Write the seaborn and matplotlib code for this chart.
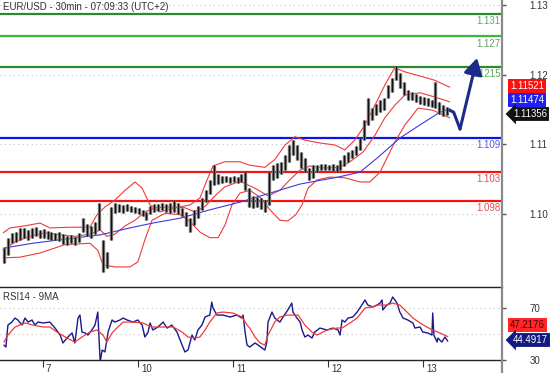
import numpy as np
import matplotlib
matplotlib.use("Agg")
import matplotlib.pyplot as plt
import matplotlib.transforms as mtransforms
from matplotlib.lines import Line2D
import seaborn as sns

# ---- data: x is hours from the left edge of the chart, y is price ----
bar_high = [
    1.0951, 1.0966, 1.0973, 1.0974, 1.0980, 1.0980, 1.0977, 1.0980, 1.0981, 1.0977,
    1.0978, 1.0976, 1.0974, 1.0973, 1.0974, 1.0971, 1.0968, 1.0970, 1.0967, 1.0973,
    1.0994, 1.0986, 1.0983, 1.0989, 1.1016, 1.0963, 1.0945, 1.1010, 1.1016, 1.1014,
    1.1013, 1.1014, 1.1011, 1.1010, 1.1009, 1.1006, 1.1003, 1.1011, 1.1014, 1.1014,
    1.1016, 1.1014, 1.1016, 1.1020, 1.1016, 1.1009, 1.1003, 1.0994, 1.1006, 1.1011,
    1.1023, 1.1034, 1.1049, 1.1070, 1.1057, 1.1055, 1.1055, 1.1053, 1.1055, 1.1053,
    1.1057, 1.1060, 1.1037, 1.1026, 1.1024, 1.1023, 1.1020, 1.1060, 1.1070, 1.1073,
    1.1075, 1.1085, 1.1099, 1.1106, 1.1099, 1.1089, 1.1080, 1.1066, 1.1070, 1.1070,
    1.1072, 1.1072, 1.1070, 1.1072, 1.1070, 1.1078, 1.1085, 1.1089, 1.1092, 1.1098,
    1.1109, 1.1135, 1.1167, 1.1152, 1.1158, 1.1164, 1.1167, 1.1185, 1.1195, 1.1212,
    1.1202, 1.1189, 1.1178, 1.1175, 1.1172, 1.1169, 1.1168, 1.1167, 1.1164, 1.1189,
    1.1161, 1.1156, 1.1154,
]
bar_low = [
    1.0930, 1.0941, 1.0958, 1.0960, 1.0963, 1.0966, 1.0963, 1.0966, 1.0968, 1.0966,
    1.0966, 1.0964, 1.0963, 1.0963, 1.0961, 1.0957, 1.0956, 1.0958, 1.0956, 1.0960,
    1.0974, 1.0968, 1.0966, 1.0971, 1.0977, 1.0917, 1.0922, 1.0963, 1.1001, 1.1003,
    1.1001, 1.1004, 1.1003, 1.1001, 1.1000, 1.0997, 1.0991, 1.1000, 1.1003, 1.1004,
    1.1006, 1.1003, 1.1001, 1.1003, 1.1000, 1.0997, 1.0983, 1.0974, 1.0984, 1.0994,
    1.1006, 1.1017, 1.1029, 1.1042, 1.1043, 1.1044, 1.1046, 1.1044, 1.1046, 1.1044,
    1.1046, 1.1034, 1.1010, 1.1009, 1.1010, 1.1007, 1.1003, 1.1013, 1.1049, 1.1052,
    1.1057, 1.1063, 1.1075, 1.1085, 1.1078, 1.1066, 1.1060, 1.1049, 1.1052, 1.1060,
    1.1063, 1.1063, 1.1063, 1.1062, 1.1060, 1.1063, 1.1069, 1.1075, 1.1080, 1.1085,
    1.1092, 1.1106, 1.1128, 1.1135, 1.1142, 1.1146, 1.1149, 1.1167, 1.1175, 1.1192,
    1.1181, 1.1171, 1.1164, 1.1164, 1.1161, 1.1158, 1.1156, 1.1155, 1.1154, 1.1152,
    1.1144, 1.1141, 1.1142,
]
bar_hours = np.arange(1, len(bar_high) + 1)

bb_up_h = [0.8, 2.5, 6.3, 10.1, 12.6, 17.7, 22.7, 24.5, 26.5, 29, 31.6, 34.1, 35.9, 37.9,
           40.4, 44.2, 48, 50.5, 52.3, 53.8, 56.8, 60.6, 63.1, 66.9, 69.4, 72, 74.5, 77,
           80.8, 84.6, 87.1, 89.6, 92.2, 94.7, 97.2, 99.7, 102.3, 106.1, 109.8, 113.6]
bb_up = [1.0973, 1.0980, 1.0983, 1.0987, 1.0980, 1.0981, 1.0981, 1.0999, 1.1010, 1.1020,
         1.1034, 1.1046, 1.1037, 1.1013, 1.1003, 1.1009, 1.1013, 1.1023, 1.1049, 1.1069,
         1.1075, 1.1075, 1.1070, 1.1067, 1.1078, 1.1099, 1.1111, 1.1106, 1.1102, 1.1099,
         1.1092, 1.1106, 1.1128, 1.1156, 1.1185, 1.1210, 1.1204, 1.1198, 1.1192, 1.1182]

bb_mid_h = [0.8, 3.8, 7.6, 11.4, 15.2, 18.9, 22.7, 25.3, 27, 29, 31.6, 34.1, 36.6, 39.1,
            42.9, 46.7, 49.2, 51.8, 54.3, 56.8, 60.6, 64.4, 67.7, 70.7, 73.2, 75.8, 78.3,
            82.1, 85.9, 88.4, 91.7, 94.7, 97.2, 99.7, 102.3, 106.1, 109.8, 113.6]
bb_mid = [1.0948, 1.0960, 1.0968, 1.0973, 1.0970, 1.0968, 1.0971, 1.0977, 1.0968, 1.0971,
          1.0983, 1.0991, 1.1003, 1.1009, 1.1010, 1.1009, 1.1003, 1.1011, 1.1026, 1.1039,
          1.1047, 1.1037, 1.1026, 1.1034, 1.1049, 1.1063, 1.1069, 1.1066, 1.1067, 1.1075,
          1.1089, 1.1113, 1.1138, 1.1156, 1.1171, 1.1174, 1.1168, 1.1161]

bb_low_h = [0.8, 5, 10.1, 16.4, 22.7, 24.7, 26, 29, 32.8, 34.8, 36.6, 38.4, 41.7, 45.5,
            48, 50.5, 53, 55.1, 56.8, 58.6, 60.6, 63.1, 65.7, 68.2, 70.7, 72.7, 74.7,
            76.3, 77.8, 80.1, 83.3, 87.1, 90.9, 93.4, 96, 97.7, 99.7, 102.3, 105.6,
            109.3, 113.6]
bb_low = [1.0937, 1.0938, 1.0944, 1.0956, 1.0958, 1.0948, 1.0927, 1.0924, 1.0924, 1.0931,
          1.0963, 1.0991, 1.1001, 1.0999, 1.0989, 1.0974, 1.0966, 1.0966, 1.0984, 1.1013,
          1.1030, 1.1034, 1.1024, 1.1006, 1.0991, 1.0990, 1.0999, 1.1013, 1.1037, 1.1049,
          1.1053, 1.1052, 1.1046, 1.1046, 1.1060, 1.1080, 1.1103, 1.1128, 1.1152, 1.1149,
          1.1138]

ma_h = [0.8, 8.3, 15.2, 25.3, 32.8, 38.6, 45.5, 53, 60.6, 68.2, 75.8, 85.4, 90.9, 95.2,
        101, 106.1, 111.1, 113.6]
ma = [1.0951, 1.0958, 1.0963, 1.0970, 1.0980, 1.0987, 1.0994, 1.1006, 1.1017, 1.1030,
      1.1043, 1.1053, 1.1060, 1.1080, 1.1109, 1.1128, 1.1146, 1.1151]

# support / resistance levels: drawn position and printed label
level_price = [1.1287, 1.1255, 1.1211, 1.1109, 1.1060, 1.1019]
level_text = ["1.131", "1.127", "1.1215", "1.109", "1.103", "1.098"]
level_color = ["#2b8a2b", "#3cb83c", "#2b8a2b", "#0a14e6", "#f01414", "#f01414"]
level_text_color = ["#5fa85f", "#5fa85f", "#5fa85f", "#5a5ae0", "#e05050", "#e05050"]

# projected path (blue arrow)
proj_h = [113.6, 114.6, 116.2, 120.5]
proj_p = [1.1149, 1.1146, 1.1122, 1.1224]

price_ticks = [1.10, 1.11, 1.12, 1.13]
price_tags = ["1.11521", "1.11474", "1.11356"]

# RSI panel
rsi_h = [1.0, 1.5, 2, 3, 3.8, 4.5, 5.6, 6.3, 7.1, 8.1, 8.8, 9.6, 10.9, 12.6, 13.9, 15.2,
         15.9, 16.9, 18.2, 18.9, 19.7, 20.2, 20.7, 21.5, 22.2, 23.2, 24, 24.7, 25.3, 25.8,
         26.5, 27.3, 28.3, 29, 30.3, 31.1, 32.1, 33.6, 34.8, 35.9, 36.6, 37.4, 37.9, 38.6,
         39.9, 41.2, 42.2, 43.4, 44.7, 46, 46.7, 47.5, 48.5, 49.2, 50, 51, 51.8, 53, 53.5,
         53.8, 54.8, 56.3, 58.1, 59.8, 61.1, 61.4, 61.9, 62.4, 63.1, 64.4, 65.2, 66.2, 66.9,
         67.4, 67.7, 68.7, 69.4, 70.7, 71.5, 72.7, 73.7, 74, 75, 75.8, 76.3, 77, 77.8, 78.8,
         79.5, 80.8, 82.6, 84.1, 85.4, 85.9, 86.4, 87.1, 87.9, 89.1, 90.2, 90.9, 92.2, 92.9,
         94.2, 95.2, 96, 96.5, 96.7, 97.7, 98.5, 99.2, 100.3, 101, 101.8, 103, 104.3, 104.8,
         106.1, 106.8, 108.1, 109.1, 109.3, 109.6, 110.4, 110.6, 111.6, 112.4, 113.1]
rsi = [41.5, 40, 56.9, 59.2, 62.3, 60.8, 56.9, 62.3, 59.2, 60.8, 56.9, 59.2, 58.5, 59.2,
       54.6, 49.2, 43.1, 46.9, 50.8, 43.1, 62.3, 64.6, 51.5, 50.8, 49.2, 53.1, 56.9, 66.9,
       28.5, 37.7, 36.2, 51.5, 60.8, 59.2, 60.8, 62.3, 60.8, 59.2, 60.8, 56.9, 47.7, 51.5,
       58.5, 53.1, 55.4, 59.2, 54.6, 56.9, 51.5, 41.5, 36.2, 37.7, 49.2, 45.4, 53.1, 56.9,
       63.1, 64.6, 74.6, 70, 64.6, 64.6, 63.1, 64.6, 62.3, 64.6, 51.5, 41.5, 40, 43.1, 41.5,
       39.2, 37.7, 43.8, 59.2, 66.9, 62.3, 59.2, 63.1, 68.5, 73.8, 66.9, 62.3, 59.2, 53.1,
       47.7, 49.2, 46.9, 51.5, 54.6, 53.1, 54.6, 53.1, 49.2, 60.8, 59.2, 62.3, 63.1, 66.9,
       70, 76.2, 72.3, 70.8, 72.3, 73.8, 76.2, 68.5, 72.3, 73.8, 78.5, 73.8, 66.9, 62.3,
       60.8, 58.5, 54.6, 55.4, 51.5, 50.8, 49.2, 66.2, 49.2, 43.8, 46.9, 43.8, 47.7, 44.5]

rsi_ma_h = [1, 2, 3.8, 6.3, 8.3, 10.9, 12.6, 14.4, 16.9, 18.9, 20.7, 22.7, 24.5, 26, 27,
            28.3, 29.5, 31.1, 33.6, 36.1, 38.4, 41.2, 43.7, 46, 47.5, 49.2, 50.5, 51.8, 53,
            54.8, 56.3, 58.8, 61.1, 62.4, 63.1, 64.4, 65.7, 66.9, 67.7, 69.4, 70.7, 72.5,
            75.3, 77, 78.8, 80.1, 82.6, 85.1, 86.4, 88.4, 90.2, 92.2, 93.9, 95.5, 97.7, 99.2,
            101, 102.8, 104.3, 106.1, 107.8, 109.3, 111.1, 113.1]
rsi_ma = [43.8, 49.2, 55.4, 58.5, 56.9, 55.4, 55.4, 51.5, 46.9, 43.8, 47.7, 51.5, 53.1,
          49.2, 43.8, 50.8, 54.6, 59.2, 59.2, 58.5, 55.4, 55.4, 55.4, 51.5, 47.7, 46.9, 47.7,
          53.1, 59.2, 66.2, 66.9, 66.2, 63.1, 56.9, 54.6, 47.7, 43.1, 41.5, 49.2, 59.2, 63.1,
          64.6, 64.6, 56.9, 51.5, 49.2, 53.1, 54.6, 54.6, 58.5, 62.3, 70, 70.8, 72.3, 72.3,
          73.8, 72.3, 66.9, 62.3, 58.5, 55.4, 53.1, 50.8, 48.0]
rsi_ticks = [30, 70]
rsi_grid = [50, 70]
rsi_tags = ["47.2176", "44.4917"]

day_ticks = [10.9, 34.9, 58.9, 82.9, 106.9]
day_labels = ["7", "10", "11", "12", "13"]

# ---- figure ----
sns.set_theme(style="white")
plt.rcParams["font.family"] = ["Liberation Sans", "DejaVu Sans"]

W, H = 550, 373
fig = plt.figure(figsize=(W / 100, H / 100), dpi=100)
ax = fig.add_axes([0, 1 - 287 / H, 502 / W, 287 / H])
ax2 = fig.add_axes([0, 1 - 360 / H, 502 / W, 73 / H])

for a in (ax, ax2):
    a.set_facecolor("white")
    for s in a.spines.values():
        s.set_visible(False)
    a.set_xlim(0, 126.8)

ax.set_ylim(1.08952, 1.13072)
ax2.set_ylim(30, 86.2)

# dotted grid
for v in price_ticks:
    ax.axhline(v, color="#c4c4c4", lw=0.8, ls=(0, (1, 3)), zorder=0)
for v in rsi_grid:
    ax2.axhline(v, color="#c4c4c4", lw=0.8, ls=(0, (1, 3)), zorder=0)

# levels
for p, t, c, tc in zip(level_price, level_text, level_color, level_text_color):
    ax.axhline(p, color=c, lw=1.6, zorder=2)
    ax.annotate(t, xy=(0.997, p), xycoords=("axes fraction", "data"),
                xytext=(0, -5.2), textcoords="offset points",
                ha="right", va="center", fontsize=7, color=tc, zorder=3)

# bollinger bands and moving average
for xs, ys in ((bb_up_h, bb_up), (bb_mid_h, bb_mid), (bb_low_h, bb_low)):
    sns.lineplot(x=xs, y=ys, ax=ax, color="#f03a3a", lw=0.8, sort=False,
                 estimator=None, zorder=3)
sns.lineplot(x=ma_h, y=ma, ax=ax, color="#3a3ae0", lw=0.8, sort=False,
             estimator=None, zorder=3)

# price bars: grey body with a black stroke
ax.vlines(bar_hours, bar_low, bar_high, color="#7a7a7a", lw=2.4, zorder=4)
ax.vlines(bar_hours, bar_low, bar_high, color="#111111", lw=0.9, zorder=4)

# projection arrow
sns.lineplot(x=proj_h[:-1], y=proj_p[:-1], ax=ax, color="#1c2a8c", lw=2.2,
             sort=False, estimator=None, zorder=5)
ax.annotate("", xy=(proj_h[-1], proj_p[-1]), xytext=(proj_h[-2], proj_p[-2]),
            arrowprops=dict(arrowstyle="-|>,head_length=0.7,head_width=0.4",
                            color="#1c2a8c", lw=2.2, mutation_scale=14,
                            shrinkA=0, shrinkB=0), zorder=5)

ax.text(0.006, 0.975, "EUR/USD - 30min - 07:09:33 (UTC+2)", transform=ax.transAxes,
        fontsize=7, color="#333333", ha="left", va="center")

# right price axis
ax.yaxis.tick_right()
ax.set_yticks(price_ticks)
ax.set_yticklabels([f"{v:.2f}" for v in price_ticks])
ax.tick_params(axis="y", right=True, length=3, width=1, color="#555555",
               labelsize=7, labelcolor="#333333", pad=17)
ax.tick_params(axis="x", bottom=False, labelbottom=False)

tag_y = [1 - 86 / 287, 1 - 100 / 287, 1 - 114 / 287]
tag_bg = ["#ff1010", "#2020f0", "#111111"]
tag_style = ["square,pad=0.2", "square,pad=0.2", "larrow,pad=0.2"]
tag_x = [1.016, 1.016, 1.022]
for t, y, bg, st, x in zip(price_tags, tag_y, tag_bg, tag_style, tag_x):
    ax.text(x, y, t, transform=ax.transAxes, fontsize=6.9, color="white",
            ha="left", va="center", clip_on=False,
            bbox=dict(boxstyle=st, fc=bg, ec="none"))

# RSI panel
sns.lineplot(x=rsi_h, y=rsi, ax=ax2, color="#1a1a8a", lw=1.0, sort=False,
             estimator=None, zorder=3)
sns.lineplot(x=rsi_ma_h, y=rsi_ma, ax=ax2, color="#f03a3a", lw=0.9, sort=False,
             estimator=None, zorder=4)
for side in ("top", "bottom"):
    ax2.spines[side].set_visible(True)
    ax2.spines[side].set_color("#222222")
    ax2.spines[side].set_linewidth(1)
ax2.text(0.006, 0.86, "RSI14 - 9MA", transform=ax2.transAxes, fontsize=7,
         color="#333333", ha="left", va="center")

ax2.yaxis.tick_right()
ax2.set_yticks(rsi_ticks)
ax2.set_yticklabels([str(v) for v in rsi_ticks])
ax2.tick_params(axis="y", right=True, length=3, width=1, color="#555555",
                labelsize=7, labelcolor="#333333", pad=17)

ax2.set_xticks(day_ticks)
ax2.set_xticklabels(day_labels)
ax2.tick_params(axis="x", bottom=True, length=5, width=0.8, color="#333333",
                labelsize=7, labelcolor="#333333", pad=-2, direction="out")
shift = mtransforms.ScaledTranslation(2 / 72, 0, fig.dpi_scale_trans)
for lab in ax2.get_xticklabels():
    lab.set_horizontalalignment("left")
    lab.set_transform(lab.get_transform() + shift)

rsi_tag_y = [(360 - 325) / 73, (360 - 340) / 73]
ax2.text(1.016, rsi_tag_y[0], rsi_tags[0], transform=ax2.transAxes, fontsize=6.9,
         color="#4a0000", ha="left", va="center", clip_on=False,
         bbox=dict(boxstyle="square,pad=0.2", fc="#ff2626", ec="none"))
ax2.text(1.022, rsi_tag_y[1], rsi_tags[1], transform=ax2.transAxes, fontsize=6.9,
         color="white", ha="left", va="center", clip_on=False,
         bbox=dict(boxstyle="larrow,pad=0.2", fc="#101a80", ec="none"))

for a in (ax, ax2):
    a.set_xlabel("")
    a.set_ylabel("")

# grey vertical axis line across both panels
fig.add_artist(Line2D([502 / W, 502 / W], [0, 1], color="#8a8a8a", lw=1.6,
                      transform=fig.transFigure))

fig.savefig("out.png", dpi=100)
